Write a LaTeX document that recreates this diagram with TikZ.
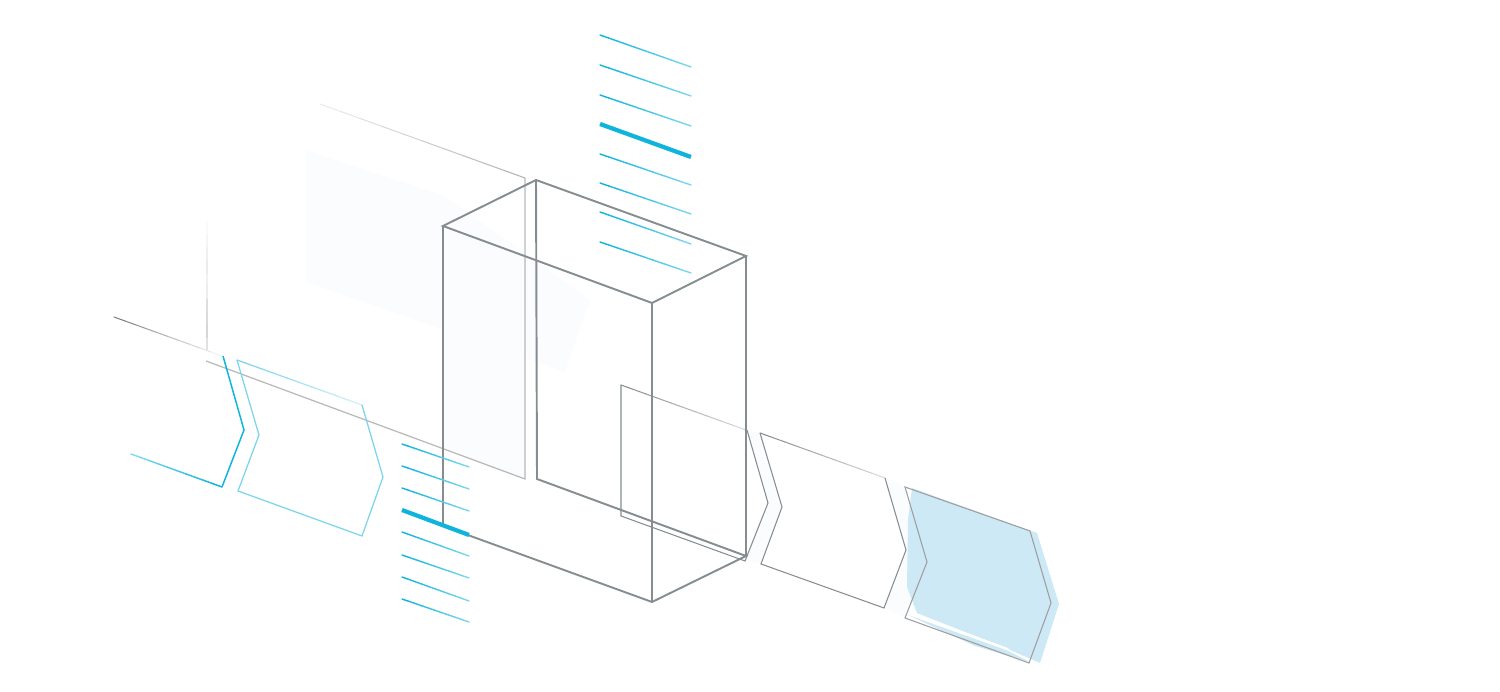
\documentclass[tikz,border=0pt]{standalone}
\usepackage{xcolor}
\usetikzlibrary{calc}
\definecolor{boxGray}{HTML}{868d91}
\definecolor{hatchBlue}{HTML}{0fb4dd}
\definecolor{paleBlue}{HTML}{7dd5ec}
\definecolor{fillBlue}{HTML}{cce9f5}
\definecolor{ghostBlue}{HTML}{fbfcfe}
\newcommand{\fadeline}[5]{%
    \foreach \i [evaluate=\i as \j using int(\i+1),
                 evaluate=\i as \k using int(#2+(#3-#2)*\i/9)] in {0,...,9}
        \draw[draw=#1!\k!white,line cap=round] ($(#4)!\i/10!(#5)$) -- ($(#4)!\j/10!(#5)$);
}
\begin{document}
\begin{tikzpicture}[
    x=0.01cm,
    y=-0.01cm,
    boxline/.style={draw=boxGray,line width=0.55pt,line join=miter},
    thinline/.style={draw=boxGray,line width=0.3pt},
    hatch/.style={line width=0.4pt},
    hatchbold/.style={draw=hatchBlue,line width=1.2pt},
    paleline/.style={draw=paleBlue,line width=0.36pt}
]
    \useasboundingbox (0,0) rectangle (1500,692);

    % ghost of the back plane
    \fill[ghostBlue] (306,150) -- (445,196) -- (590,300) -- (565,372) -- (306,282) -- cycle;
    \fill[ghostBlue] (443,235) -- (525,262) -- (525,478) -- (443,448) -- cycle;
    \fill[ghostBlue] (747,430) -- (760,433) -- (782,507) -- (761,564) -- (745,561) -- (768,503) -- cycle;
    \fill[ghostBlue] (885,478) -- (905,487) -- (927,562) -- (905,618) -- (884,608) -- (906,550) -- cycle;

    % back plane
    \coordinate (pa) at (320,104);
    \coordinate (pb) at (525,178);
    \coordinate (pc) at (525,479);
    \coordinate (pd) at (206,361);
    \coordinate (pe) at (207,222);
    \coordinate (pf) at (207,350);
    \coordinate (pg) at (114,317);
    \coordinate (ph) at (222,356);
    \begin{scope}[line width=0.3pt]
        \fadeline{black}{8}{30}{pa}{pb}
        \fadeline{black}{3}{18}{pe}{pf}
        \fadeline{black}{50}{6}{pg}{ph}
    \end{scope}
    \draw[draw=black!28,line width=0.35pt] (pb) -- (pc) -- (pd);

    % filled step
    \fill[fillBlue] (912,488) -- (1037,533) -- (1059,604) -- (1040,663) -- (1010,650)
        -- (917,613) -- (907,587) -- (908,520) -- cycle;
    \fill[fillBlue] (908,615) -- (1006,650) -- (1030,662) -- (975,646) -- cycle;
    \fill[white] (913,613) -- (1008,648) -- (1010,651) -- (916,616) -- cycle;

    % steps
    \coordinate (sa) at (131,454);
    \coordinate (sb) at (222,487);
    \coordinate (sc) at (244,430);
    \coordinate (sd) at (223,356);
    \begin{scope}[line width=0.42pt]
        \fadeline{hatchBlue}{50}{100}{sa}{sb}
    \end{scope}
    \draw[draw=hatchBlue,line width=0.42pt] (sb) -- (sc) -- (sd);

    \coordinate (qa) at (237,360);
    \coordinate (qb) at (362,405);
    \begin{scope}[paleline]
        \fadeline{paleBlue}{100}{35}{qa}{qb}
    \end{scope}
    \draw[paleline] (qb) -- (383,477) -- (362,536) -- (238,491) -- (259,435) -- (qa);

    \coordinate (ra) at (621,385);
    \coordinate (rb) at (746,430);
    \begin{scope}[thinline]
        \fadeline{boxGray}{100}{35}{ra}{rb}
    \end{scope}
    \draw[thinline] (ra) -- (621,516) -- (745,561) -- (768,503) -- (747,430);

    \coordinate (ta) at (760,433);
    \coordinate (tc) at (885,478);
    \begin{scope}[thinline]
        \fadeline{boxGray}{100}{35}{ta}{tc}
    \end{scope}
    \draw[thinline] (tc) -- (906,550) -- (884,608) -- (761,564) -- (782,507) -- (ta);
    \draw[draw=black!38,line width=0.3pt] (905,487) -- (1030,531) -- (1051,603) -- (1029,663) -- (905,618) -- (927,562) -- cycle;

    % box
    \coordinate (tl) at (443,226);
    \coordinate (tb) at (536,180);
    \coordinate (tr) at (746,256);
    \coordinate (tf) at (652,303);
    \coordinate (bl) at (443,526);
    \coordinate (bb) at (537,479);
    \coordinate (br) at (746,556);
    \coordinate (bf) at (652,602);
    \draw[boxline] (tl) -- (tb) -- (tr) -- (tf) -- cycle;
    \draw[boxline] (tl) -- (bl) -- (bf) -- (br) -- (bb) -- (tb);
    \draw[boxline] (tf) -- (bf);
    \draw[boxline] (tr) -- (br);

    % hatching
    \foreach \ya/\yb/\n in {35/67/1,65/96/2,95/126/3,154/185/4,183/214/5,212/244/6,242/273/7} {
        \coordinate (ua\n) at (600,\ya);
        \coordinate (ub\n) at (691,\yb);
        \begin{scope}[hatch]
            \fadeline{hatchBlue}{100}{55}{ua\n}{ub\n}
        \end{scope}
    }
    \foreach \ya/\yb/\n in {444/467/1,466/489/2,488/511/3,532/556/4,555/578/5,577/601/6,599/622/7} {
        \coordinate (la\n) at (402,\ya);
        \coordinate (lb\n) at (469,\yb);
        \begin{scope}[hatch]
            \fadeline{hatchBlue}{100}{55}{la\n}{lb\n}
        \end{scope}
    }
    \coordinate (um) at (600,124);
    \coordinate (un) at (691,157);
    \coordinate (lm) at (402,510);
    \coordinate (ln) at (469,535);
    \draw[hatchbold] (um) -- (un);
    \draw[hatchbold] (lm) -- (ln);
\end{tikzpicture}
\end{document}
